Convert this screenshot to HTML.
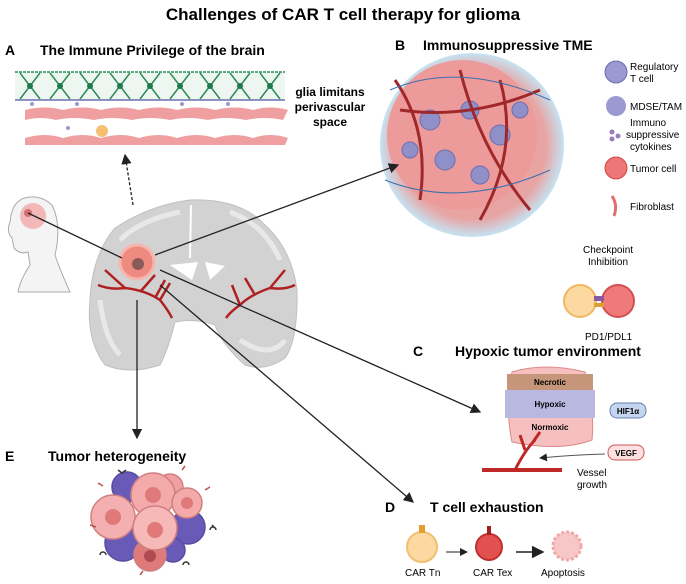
<!DOCTYPE html>
<html><head><meta charset="utf-8"><style>
body{margin:0;background:#fff;width:686px;height:584px;overflow:hidden;font-family:"Liberation Sans",sans-serif}
svg{display:block}
text{font-family:"Liberation Sans",sans-serif}
.h{font-weight:bold;font-size:14px}
.s{font-size:10px}
</style></head><body>
<svg width="686" height="584" viewBox="0 0 686 584">
<defs>
<marker id="ar" markerWidth="8" markerHeight="8" refX="7" refY="4" orient="auto"><path d="M0,0 L8,4 L0,8 z" fill="#222"/></marker>
<radialGradient id="tg" cx="50%" cy="50%" r="50%"><stop offset="0.8" stop-color="#e8a3a3"/><stop offset="1" stop-color="#c5e3f2"/></radialGradient>
</defs>
<text x="343" y="20" text-anchor="middle" font-weight="bold" font-size="17">Challenges of CAR T cell therapy for glioma</text>
<!-- A -->
<text x="5" y="55" class="h">A</text>
<text x="40" y="55" class="h">The Immune Privilege of the brain</text>
<rect x="15" y="72" width="270" height="28" fill="#eef6f1"/>
<path d="M15,72 L285,72" stroke="#2e8b57" stroke-width="1.5" stroke-dasharray="3,1"/>
<path d="M15,100 L285,100" stroke="#6a70b0" stroke-width="1.5"/>
<g stroke="#2e8b57" stroke-width="1.5" fill="none">
<path d="M20,73 Q30,86 40,99 M40,73 Q30,86 20,99 M50,73 Q60,86 70,99 M70,73 Q60,86 50,99 M80,73 Q90,86 100,99 M100,73 Q90,86 80,99 M110,73 Q120,86 130,99 M130,73 Q120,86 110,99 M140,73 Q150,86 160,99 M160,73 Q150,86 140,99 M170,73 Q180,86 190,99 M190,73 Q180,86 170,99 M200,73 Q210,86 220,99 M220,73 Q210,86 200,99 M230,73 Q240,86 250,99 M250,73 Q240,86 230,99 M260,73 Q270,86 280,99 M280,73 Q270,86 260,99"/>
</g>
<g fill="#1f7a4a"><circle cx="30" cy="86" r="3"/><circle cx="60" cy="86" r="3"/><circle cx="90" cy="86" r="3"/><circle cx="120" cy="86" r="3"/><circle cx="150" cy="86" r="3"/><circle cx="180" cy="86" r="3"/><circle cx="210" cy="86" r="3"/><circle cx="240" cy="86" r="3"/><circle cx="270" cy="86" r="3"/></g>
<g fill="#9a9ad0"><circle cx="32" cy="104" r="2"/><circle cx="77" cy="104" r="2"/><circle cx="182" cy="104" r="2"/><circle cx="228" cy="104" r="2"/></g>
<path d="M25,110 Q45,105 63,110 Q83,105 101,110 Q121,105 139,110 Q159,105 177,110 Q197,105 215,110 Q235,105 253,110 Q271,105 288,110 L283,120 Q265,116 246,120 Q226,116 208,120 Q188,116 170,120 Q150,116 132,120 Q112,116 94,120 Q74,116 56,120 Q40,116 25,120 Z" fill="#ef9f9f"/>
<circle cx="68" cy="128" r="2" fill="#9a9ad0"/>
<circle cx="102" cy="131" r="6" fill="#f4c070"/>
<path d="M25,138 Q45,132 63,138 Q83,132 101,138 Q121,132 139,138 Q159,132 177,138 Q197,132 215,138 Q235,132 253,138 Q271,132 288,138 L285,145 L25,145 Z" fill="#ef9f9f"/>
<text x="330" y="96" text-anchor="middle" font-weight="bold" font-size="12">glia limitans</text>
<text x="330" y="111" text-anchor="middle" font-weight="bold" font-size="12">perivascular</text>
<text x="330" y="126" text-anchor="middle" font-weight="bold" font-size="12">space</text>
<!-- B -->
<text x="395" y="50" class="h">B</text>
<text x="423" y="50" class="h">Immunosuppressive TME</text>
<circle cx="472" cy="145" r="92" fill="url(#tg)"/>
<circle cx="462" cy="135" r="75" fill="#ec9a9a"/>
<g fill="#8f90c8" stroke="#6b6db0"><circle cx="430" cy="120" r="10"/><circle cx="470" cy="110" r="9"/><circle cx="500" cy="135" r="10"/><circle cx="445" cy="160" r="10"/><circle cx="520" cy="110" r="8"/><circle cx="480" cy="175" r="9"/><circle cx="410" cy="150" r="8"/></g>
<path d="M395,80 Q430,130 420,200 M460,70 Q480,150 530,210 M400,110 Q470,120 540,90 M500,80 Q520,150 480,220" stroke="#a0282a" stroke-width="3" fill="none"/>
<path d="M390,90 Q460,60 550,100 M385,180 Q460,210 550,170" stroke="#3a6fb0" stroke-width="1" fill="none"/>
<circle cx="616" cy="72" r="11" fill="#9a9ad0" stroke="#6b6db0"/>
<text x="630" y="70" class="s">Regulatory</text><text x="630" y="82" class="s">T cell</text>
<circle cx="616" cy="106" r="10" fill="#9a9ad0"/>
<text x="630" y="110" class="s">MDSE/TAM</text>
<circle cx="612" cy="132" r="2.5" fill="#9a7ac0"/><circle cx="618" cy="136" r="2.5" fill="#9a7ac0"/><circle cx="612" cy="139" r="2.5" fill="#9a7ac0"/>
<text x="630" y="126" class="s">Immuno</text><text x="626" y="138" class="s">suppressive</text><text x="630" y="150" class="s">cytokines</text>
<circle cx="616" cy="168" r="11" fill="#ec7777" stroke="#d04848"/>
<text x="630" y="172" class="s">Tumor cell</text>
<path d="M612,196 Q618,205 614,216" stroke="#e07070" stroke-width="3" fill="none"/>
<text x="630" y="210" class="s">Fibroblast</text>
<text x="583" y="253" class="s">Checkpoint</text><text x="588" y="265" class="s">Inhibition</text>
<circle cx="580" cy="301" r="16" fill="#fbd9a0" stroke="#f0b860" stroke-width="2"/>
<circle cx="618" cy="301" r="16" fill="#ee7a7a" stroke="#d45050" stroke-width="2"/>
<rect x="594" y="296" width="10" height="5" fill="#8a5aa0"/><rect x="594" y="303" width="10" height="4" fill="#e0a030"/>
<text x="585" y="340" class="s">PD1/PDL1</text>
<!-- head -->
<path d="M30,197 Q12,198 10,222 Q6,232 12,238 L14,248 Q20,255 28,252 L30,265 Q20,280 18,292 L70,292 Q60,270 55,255 Q62,225 52,205 Q42,196 30,197 Z" fill="#f4f4f4" stroke="#aaa"/>
<circle cx="33" cy="216" r="13" fill="#f2b8b8"/>
<circle cx="28" cy="213" r="4" fill="#d07070"/>
<!-- brain -->
<path d="M115,228 Q150,205 190,200 Q240,198 265,225 Q292,250 297,290 Q298,340 285,358 Q265,372 245,365 Q222,345 215,325 Q195,318 175,322 Q168,350 160,365 Q130,375 105,365 Q86,340 90,300 Q92,255 115,228 Z" fill="#d2d2d2" stroke="#c0c0c0"/>
<path d="M120,240 Q140,220 180,212 M230,212 Q265,225 280,260 M100,300 Q105,340 120,355 M240,340 Q270,360 285,340" stroke="#e8e8e8" stroke-width="5" fill="none"/>
<path d="M191,205 L190,258" stroke="#fff" stroke-width="2"/>
<path d="M170,265 L198,262 L192,280 Z M205,262 L225,266 L210,280 Z" fill="#fff"/>
<circle cx="137" cy="262" r="17" fill="#ee8a80" stroke="#f6b6ae" stroke-width="3"/>
<circle cx="138" cy="264" r="6" fill="#8a5a5a"/>
<path d="M98,285 Q110,290 125,288 Q145,290 160,300 Q168,310 172,318 M125,288 L105,270 M140,292 L155,275 M155,298 L165,280 M160,300 L170,283" stroke="#b02020" stroke-width="2.5" fill="none"/>
<path d="M295,285 Q285,290 270,288 Q250,295 240,305 Q230,312 226,318 M270,288 L285,270 M255,295 L245,278 M240,305 L232,285" stroke="#b02020" stroke-width="2.5" fill="none"/>
<!-- arrows -->
<line x1="28" y1="213" x2="122" y2="258" stroke="#222" stroke-width="1.3"/>
<line x1="133" y1="205" x2="125" y2="155" stroke="#222" stroke-width="1.3" stroke-dasharray="3,2" marker-end="url(#ar)"/>
<line x1="155" y1="255" x2="398" y2="165" stroke="#222" stroke-width="1.3" marker-end="url(#ar)"/>
<line x1="137" y1="300" x2="137" y2="438" stroke="#222" stroke-width="1.3" marker-end="url(#ar)"/>
<line x1="160" y1="270" x2="480" y2="412" stroke="#222" stroke-width="1.3" marker-end="url(#ar)"/>
<line x1="160" y1="285" x2="413" y2="502" stroke="#222" stroke-width="1.3" marker-end="url(#ar)"/>
<!-- C -->
<text x="413" y="356" class="h">C</text>
<text x="455" y="356" class="h">Hypoxic tumor environment</text>
<path d="M512,372 Q545,362 585,372 Q595,410 592,440 Q560,452 512,442 Q505,410 512,372 Z" fill="#f7c0c0" stroke="#d88"/>
<rect x="507" y="374" width="86" height="16" fill="#c5967a"/>
<rect x="505" y="390" width="90" height="28" fill="#b8b8e0"/>
<text x="550" y="385" text-anchor="middle" font-size="8" font-weight="bold">Necrotic</text>
<text x="550" y="407" text-anchor="middle" font-size="8" font-weight="bold">Hypoxic</text>
<text x="550" y="430" text-anchor="middle" font-size="8" font-weight="bold">Normoxic</text>
<rect x="610" y="403" width="36" height="15" rx="7" fill="#c5d5ef" stroke="#6a80b0"/>
<text x="628" y="414" text-anchor="middle" font-size="8" font-weight="bold">HIF1α</text>
<rect x="608" y="445" width="36" height="15" rx="7" fill="#fde0e0" stroke="#c55"/>
<text x="626" y="456" text-anchor="middle" font-size="8" font-weight="bold">VEGF</text>
<rect x="482" y="468" width="80" height="4" fill="#c02828"/>
<path d="M515,470 Q525,450 535,440 M525,450 L520,435 M533,442 L540,432" stroke="#c02828" stroke-width="3" fill="none"/>
<path d="M605,454 Q570,455 540,458" stroke="#555" fill="none" marker-end="url(#ar)"/>
<text x="577" y="476" class="s">Vessel</text><text x="577" y="488" class="s">growth</text>
<!-- D -->
<text x="385" y="512" class="h">D</text>
<text x="430" y="512" class="h">T cell exhaustion</text>
<circle cx="422" cy="547" r="15" fill="#fbd9a0" stroke="#f0c070" stroke-width="2"/>
<rect x="419" y="525" width="6" height="8" fill="#e0a030"/>
<circle cx="489" cy="547" r="13" fill="#e25050" stroke="#c03030" stroke-width="2"/>
<rect x="487" y="526" width="4" height="9" fill="#a02020"/>
<circle cx="567" cy="546" r="14" fill="#f7c6c6" stroke="#f0a8a8" stroke-width="3" stroke-dasharray="3,2"/>
<line x1="446" y1="552" x2="467" y2="552" stroke="#222" marker-end="url(#ar)"/>
<line x1="516" y1="552" x2="543" y2="552" stroke="#222" stroke-width="1.6" marker-end="url(#ar)"/>
<text x="405" y="576" class="s">CAR Tn</text>
<text x="473" y="576" class="s">CAR Tex</text>
<text x="541" y="576" class="s">Apoptosis</text>
<!-- E -->
<text x="5" y="461" class="h">E</text>
<text x="48" y="461" class="h">Tumor heterogeneity</text>
<g stroke="#d08080" stroke-width="1.5">
<circle cx="127" cy="487" r="15" fill="#6a5ab8" stroke="#5a4aa0"/>
<circle cx="170" cy="487" r="13" fill="#f0a0a0"/>
<circle cx="188" cy="527" r="17" fill="#6a5ab8" stroke="#5a4aa0"/>
<circle cx="123" cy="543" r="18" fill="#6a5ab8" stroke="#5a4aa0"/>
<circle cx="173" cy="550" r="12" fill="#6a5ab8" stroke="#5a4aa0"/>
<circle cx="150" cy="555" r="16" fill="#e07a7a"/>
<circle cx="153" cy="495" r="22" fill="#f4aaaa"/>
<circle cx="187" cy="503" r="15" fill="#f4aaaa"/>
<circle cx="113" cy="517" r="22" fill="#f4b0b0"/>
<circle cx="155" cy="528" r="22" fill="#f7b8b8"/>
</g>
<g fill="#e07a7a" stroke="none"><circle cx="153" cy="495" r="8"/><circle cx="113" cy="517" r="8"/><circle cx="155" cy="530" r="8"/><circle cx="187" cy="503" r="6"/><circle cx="150" cy="556" r="6" fill="#b04a50"/></g>
<g stroke="#333" stroke-width="1.5" fill="none"><path d="M118,470 l4,3 l4,-3 M215,528 l-3,-3 M210,530 a3,3 0 0 1 6,0 M100,555 a3,3 0 0 1 6,0 M183,565 a3,3 0 0 1 6,0"/></g>
<g stroke="#c05050" stroke-width="1.5" fill="none"><path d="M98,483 l5,3 M90,525 l6,2 M205,490 l5,-3 M182,470 l3,-4 M140,575 l3,-4"/></g>
</svg>
</body></html>
